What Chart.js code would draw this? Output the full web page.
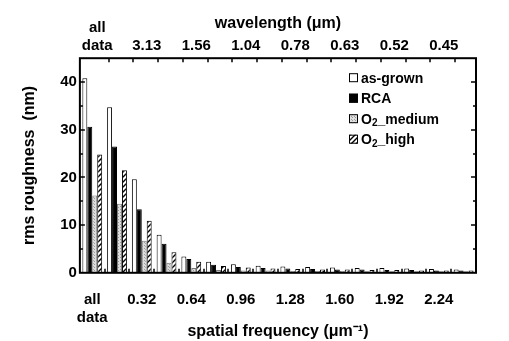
<!DOCTYPE html>
<html>
<head>
<meta charset="utf-8">
<title>rms roughness vs spatial frequency</title>
<script src="https://cdn.jsdelivr.net/npm/chart.js@4.4.1/dist/chart.umd.min.js"></script>
<style>
  html, body { margin: 0; padding: 0; background: #fff; }
  #wrap { width: 509px; height: 341px; }
</style>
</head>
<body>
<div id="wrap"><canvas id="roughChart" width="509" height="341"></canvas></div>
<script>
// spatial frequency bins (um^-1), first bin is the whole data set
const categories = ['all data', '0.16', '0.32', '0.48', '0.64', '0.80', '0.96', '1.12',
                    '1.28', '1.44', '1.60', '1.76', '1.92', '2.08', '2.24', '2.40'];
const freqTickLabels = [['all', 'data'], '', '0.32', '', '0.64', '', '0.96', '', '1.28', '',
                        '1.60', '', '1.92', '', '2.24', ''];
const wavelengthTickLabels = [['all', 'data'], '', '3.13', '', '1.56', '', '1.04', '', '0.78', '',
                              '0.63', '', '0.52', '', '0.45', ''];
const seriesNames = ['as-grown', 'RCA', 'O\u2082_medium', 'O\u2082_high'];

// rms roughness (nm)
const asGrown  = [40.8, 34.7, 19.6, 8.0, 3.4, 2.3, 1.8, 1.5, 1.3, 1.2, 1.1, 1.0, 1.0, 0.9, 0.8, 0.7];
const rca      = [30.6, 26.5, 13.3, 6.1, 2.9, 1.7, 1.2, 1.0, 0.9, 0.8, 0.7, 0.7, 0.6, 0.6, 0.5, 0.5];
const o2Medium = [16.2, 14.5, 6.7, 2.1, 1.0, 0.6, 0.5, 0.5, 0.4, 0.4, 0.4, 0.3, 0.3, 0.3, 0.3, 0.3];
const o2High   = [24.8, 21.5, 10.9, 4.3, 2.3, 1.4, 1.1, 0.9, 0.8, 0.7, 0.7, 0.6, 0.6, 0.5, 0.5, 0.5];

const FONT = "'Liberation Sans', Arial, Helvetica, sans-serif";
Chart.defaults.font.family = FONT;
Chart.defaults.color = '#000';

const canvas = document.getElementById('roughChart');
const ctx = canvas.getContext('2d');

function makePattern(kind) {
    const tile = document.createElement('canvas');
    const p = tile.getContext('2d');
    if (kind === 'dots') {
        tile.width = 3; tile.height = 3;
        p.fillStyle = '#dedede';
        p.fillRect(0, 0, 3, 3);
        p.fillStyle = '#9c9c9c';
        p.fillRect(1, 0, 1, 1);
        p.fillRect(0, 2, 1, 1);
    } else {
        tile.width = 5; tile.height = 5;
        p.fillStyle = '#fff';
        p.fillRect(0, 0, 5, 5);
        p.strokeStyle = '#000';
        p.lineWidth = 1.4;
        p.beginPath();
        p.moveTo(0, 5); p.lineTo(5, 0);
        p.moveTo(-1, 1); p.lineTo(1, -1);
        p.moveTo(4, 6); p.lineTo(6, 4);
        p.stroke();
    }
    return ctx.createPattern(tile, 'repeat');
}

// frame box plus inward tick marks
const frameTicks = {
    id: 'frameTicks',
    afterDraw(chart) {
        const { ctx, chartArea: a, scales } = chart;
        ctx.save();
        ctx.strokeStyle = '#000';
        ctx.lineWidth = 2;
        ctx.strokeRect(a.left, a.top, a.right - a.left, a.bottom - a.top);
        ctx.lineWidth = 1.5;
        ctx.beginPath();
        const xs = scales.x;
        for (let i = 1; i < categories.length; i++) {
            const px = Math.round((xs.getPixelForValue(i - 1) + xs.getPixelForValue(i)) / 2);
            ctx.moveTo(px, a.bottom); ctx.lineTo(px, a.bottom - 4);
            ctx.moveTo(px + 4, a.top); ctx.lineTo(px + 4, a.top + 4);
        }
        const ys = scales.y;
        for (let v = 5; v < ys.max; v += 5) {
            const py = Math.round(ys.getPixelForValue(v));
            const len = v % 10 === 0 ? 5 : 3;
            ctx.moveTo(a.left, py); ctx.lineTo(a.left + len, py);
            ctx.moveTo(a.right, py); ctx.lineTo(a.right - len, py);
        }
        ctx.stroke();
        ctx.restore();
    }
};

// legend drawn inside the plot, upper right
const insideLegend = {
    id: 'insideLegend',
    afterDraw(chart) {
        const { ctx, chartArea: a } = chart;
        ctx.save();
        ctx.textBaseline = 'alphabetic';
        chart.data.datasets.forEach((ds, i) => {
            const x = a.right - 127;
            const y = a.top + 15 + i * 20.5;
            ctx.fillStyle = ds.backgroundColor;
            ctx.fillRect(x, y, 9, 9);
            ctx.strokeStyle = '#000';
            ctx.lineWidth = 1;
            ctx.strokeRect(x + 0.5, y + 0.5, 8, 8);
            ctx.fillStyle = '#000';
            let tx = x + 12;
            const parts = ds.label.split('\u2082');
            parts.forEach((part, k) => {
                ctx.font = 'bold 14px ' + FONT;
                ctx.fillText(part, tx, y + 9.5);
                tx += ctx.measureText(part).width;
                if (k < parts.length - 1) {
                    ctx.font = 'bold 10px ' + FONT;
                    ctx.fillText('2', tx, y + 12);
                    tx += ctx.measureText('2').width;
                }
            });
        });
        ctx.restore();
    }
};

new Chart(ctx, {
    type: 'bar',
    data: {
        labels: categories,
        datasets: [
            { label: seriesNames[0], data: asGrown, backgroundColor: '#fff', borderColor: '#000' },
            { label: seriesNames[1], data: rca, backgroundColor: '#000', borderColor: '#000' },
            { label: seriesNames[2], data: o2Medium, backgroundColor: makePattern('dots'), borderColor: '#7a7a7a' },
            { label: seriesNames[3], data: o2High, backgroundColor: makePattern('hatch'), borderColor: '#000' }
        ]
    },
    options: {
        responsive: false,
        animation: false,
        layout: { padding: { left: 20, right: 33, top: 14, bottom: 0 } },
        datasets: {
            bar: { borderWidth: 1, categoryPercentage: 0.8, barPercentage: 1.0 }
        },
        plugins: {
            legend: { display: false },
            tooltip: { enabled: false }
        },
        scales: {
            x: {
                position: 'bottom',
                grid: { display: false, drawTicks: false },
                border: { display: false },
                ticks: {
                    autoSkip: false,
                    maxRotation: 0,
                    padding: 18,
                    font: { size: 15, weight: 'bold' },
                    callback: (v, i) => freqTickLabels[i]
                },
                title: {
                    display: true,
                    text: 'spatial frequency (\u03bcm\u207b\u00b9)',
                    font: { size: 16, weight: 'bold' },
                    padding: { top: -23, bottom: 0 }
                }
            },
            x2: {
                type: 'category',
                position: 'top',
                labels: wavelengthTickLabels,
                offset: true,
                grid: { display: false, drawTicks: false },
                border: { display: false },
                ticks: {
                    autoSkip: false,
                    maxRotation: 0,
                    padding: 3,
                    labelOffset: 5,
                    font: { size: 15, weight: 'bold' }
                },
                title: {
                    display: true,
                    text: 'wavelength (\u03bcm)',
                    font: { size: 16, weight: 'bold' },
                    padding: { top: 0, bottom: -17 }
                }
            },
            y: {
                min: 0,
                max: 45,
                grid: { display: false, drawTicks: false },
                border: { display: false },
                ticks: {
                    stepSize: 10,
                    includeBounds: false,
                    padding: 3,
                    font: { size: 15, weight: 'bold' }
                },
                title: {
                    display: true,
                    text: 'rms roughness  (nm)',
                    font: { size: 16, weight: 'bold' },
                    padding: { top: 0, bottom: 18 }
                }
            }
        }
    },
    plugins: [frameTicks, insideLegend]
});
</script>
</body>
</html>
